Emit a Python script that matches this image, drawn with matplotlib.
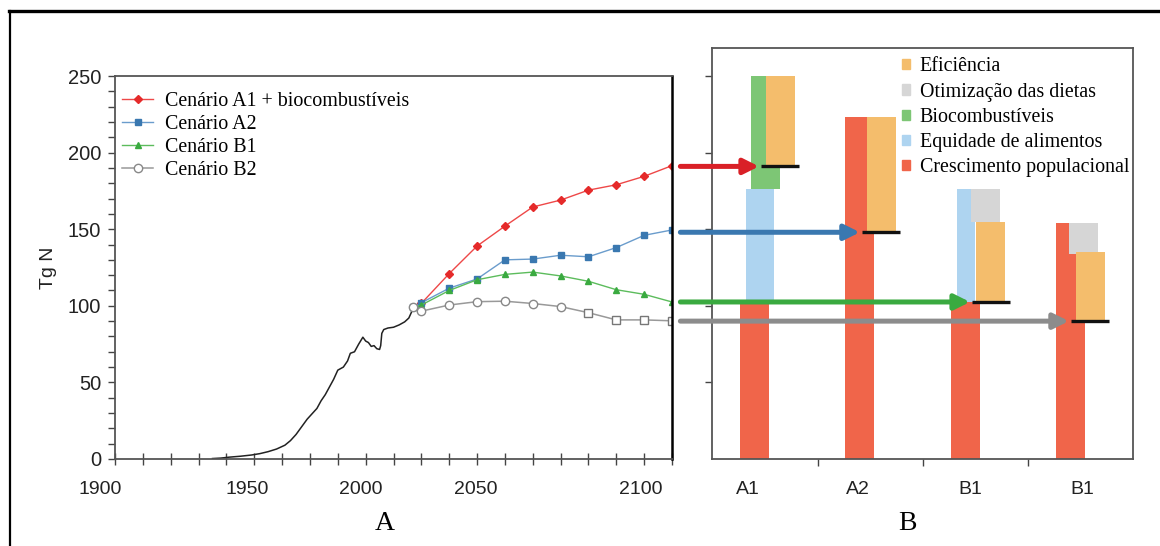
import numpy as np
import matplotlib.pyplot as plt
from matplotlib.patches import Patch
from matplotlib.lines import Line2D
from matplotlib.transforms import blended_transform_factory

plt.rcParams['font.family'] = 'Liberation Sans'
SERIF = 'Liberation Serif'

# --- painel A: serie historica e cenarios (Tg N) ---
hist_years = [1935, 1938, 1941, 1945, 1949, 1952, 1955, 1958, 1961, 1963, 1965, 1967,
              1969, 1971, 1972.5, 1974, 1975.5, 1977, 1978.5, 1980, 1982, 1983.5, 1984.5,
              1986, 1987.5, 1989, 1990, 1991, 1992, 1993, 1994, 1995, 1995.4, 1995.8,
              1996.5, 1998, 2000, 2002, 2004, 2005.5, 2006.5, 2007]
hist_vals = [0.3, 0.6, 1.2, 1.8, 2.6, 3.5, 4.8, 6.5, 9, 12, 16, 21,
             26, 30, 33, 38, 42, 47, 52, 58, 60, 64, 69,
             70, 75, 79.5, 77, 76, 73.5, 74, 72, 71.5, 74, 82,
             84.5, 85.5, 86, 87.5, 89.5, 92, 96, 99]

years = [2007, 2010, 2020, 2030, 2040, 2050, 2060, 2070, 2080, 2090, 2100]
a1_bio = [99, 101.6, 121, 139, 152, 164.5, 169, 175.5, 179, 184.5, 191.5]
a2 = [99, 102, 111.5, 117.5, 130, 130.5, 133, 132, 138, 146, 149.5]
b1 = [99, 100.5, 110, 117, 120.5, 122, 119.5, 116, 110.5, 107.5, 102.5]
b2 = [99, 96.5, 100.5, 102.7, 103, 101.5, 99.5, 95.5, 90.8, 90.8, 90.2]

year_labels = ['1900', '1950', '2000', '2050', '2100']

# --- painel B: decomposicao por cenario ---
categories = ['A1', 'A2', 'B1', 'B1']
pop_top = [103, 223, 102.5, 154]
equity_top = [176, np.nan, 176, np.nan]
biofuel_top = [250, np.nan, np.nan, np.nan]
diet_low = [np.nan, np.nan, 155, 134]
diet_high = [np.nan, np.nan, 176, 154]
eff_high = [250, 223, 155, 135]
final = [191, 148, 102.5, 90]

c_eff = '#f4bd6c'
c_diet = '#d6d6d6'
c_bio = '#7dc675'
c_equity = '#aed4f0'
c_pop = '#f0654a'
arrow_colors = ['#d92027', '#3a78b0', '#3aaa40', '#8c8c8c']

fig = plt.figure(figsize=(11.6, 5.46), dpi=100)
ax1 = fig.add_axes([115 / 1160, 87 / 546, 557 / 1160, 383 / 546])
ax2 = fig.add_axes([712 / 1160, 87 / 546, 421 / 1160, 411 / 546])

# painel A
ax1.plot(hist_years, hist_vals, color='#222222', lw=1.1)
ax1.plot(years, a1_bio, color='#ee4848', lw=1, marker='D', ms=4,
         mfc='#e52a2a', mec='#e52a2a', label='Cenário A1 + biocombustíveis')
ax1.plot(years, a2, color='#6a9ccc', lw=1, marker='s', ms=5,
         mfc='#3a78b0', mec='#3a78b0', label='Cenário A2')
ax1.plot(years, b1, color='#5cbc5c', lw=1, marker='^', ms=5,
         mfc='#3aaa40', mec='#3aaa40', label='Cenário B1')
ax1.plot(years, b2, color='#999999', lw=1.1, marker='o', ms=6, markevery=slice(0, 7),
         mfc='white', mec='#888888', label='Cenário B2')
# no fim do cenario B2 os marcadores sao quadrados
ax1.plot(years[7:], b2[7:], ls='none', marker='s', ms=6, mfc='white', mec='#777777')

ax1.set_xlim(1900, 2100)
ax1.set_ylim(0, 250)
ax1.set_yticks(np.arange(0, 251, 50))
ax1.set_yticks(np.arange(0, 251, 10), minor=True)
ax1.tick_params(axis='y', which='both', direction='out', length=5, width=1,
                color='#444444', labelsize=14.5, pad=5, labelcolor='#222222')
ax1.set_xticks(np.arange(1900, 2101, 10), minor=True)
ax1.set_xticks([])
ax1.tick_params(axis='x', which='minor', direction='inout', length=8, width=1,
                color='#444444')
trans = blended_transform_factory(ax1.transData, ax1.transAxes)
for pos, lab in zip([1894.8, 1947.6, 1988.2, 2029.4, 2088.6], year_labels):
    ax1.text(pos, -0.08, lab, transform=trans, ha='center', va='center',
             fontsize=14, color='#222222', clip_on=False)
ax1.set_ylabel('Tg N', fontsize=14, labelpad=8, color='#222222')
for s in ax1.spines.values():
    s.set_color('#555555')
    s.set_linewidth(1.3)
ax1.spines['right'].set_color('black')
ax1.spines['right'].set_linewidth(1.8)

ax1.legend(loc='upper left', bbox_to_anchor=(0.0126, 0.958), frameon=False,
           prop={'family': SERIF, 'size': 14.4}, handlelength=1.55,
           handletextpad=0.6, labelspacing=0.2, borderaxespad=0, borderpad=0)

# painel B
w = 0.275
off_equity = [0.052, 0, 0.01, 0]
w_equity = [0.266, 0, 0.17, 0]
off_bio = [0.104, 0, 0, 0]
off_diet = [0, 0, 0.19, 0.124]
off_eff = [0.242, 0.206, 0.237, 0.19]
line_left = [0.062, 0.02, 0.066, 0.005]
line_len = 0.36

for i in range(len(categories)):
    ax2.bar(i, pop_top[i], width=w, color=c_pop, zorder=2)
    if not np.isnan(equity_top[i]):
        ax2.bar(i + off_equity[i], equity_top[i] - pop_top[i], bottom=pop_top[i],
                width=w_equity[i], color=c_equity, zorder=2)
    if not np.isnan(biofuel_top[i]):
        ax2.bar(i + off_bio[i], biofuel_top[i] - equity_top[i], bottom=equity_top[i],
                width=w, color=c_bio, zorder=3)
    if not np.isnan(diet_low[i]):
        ax2.bar(i + off_diet[i], diet_high[i] - diet_low[i], bottom=diet_low[i],
                width=w, color=c_diet, zorder=3)
    ax2.bar(i + off_eff[i], eff_high[i] - final[i], bottom=final[i],
            width=w, color=c_eff, zorder=4)
    ax2.plot([i + line_left[i], i + line_left[i] + line_len], [final[i], final[i]],
             color='#111111', lw=2.4, solid_capstyle='butt', zorder=6)

ax2.set_xlim(-0.404, 3.594)
ax2.set_ylim(0, 268.3)
ax2.set_yticks(np.arange(50, 251, 50))
ax2.set_yticklabels([])
ax2.set_xticks([0.6, 1.6, 2.6])
ax2.set_xticklabels([])
ax2.tick_params(which='both', direction='out', length=5, width=1, color='#444444')
trans2 = blended_transform_factory(ax2.transData, ax2.transAxes)
for pos, lab in zip([-0.06, 0.98, 2.05, 3.11], categories):
    ax2.text(pos, -0.073, lab, transform=trans2, ha='center', va='center',
             fontsize=14, color='#222222', clip_on=False)
for s in ax2.spines.values():
    s.set_color('#555555')
    s.set_linewidth(1.3)

handles = [Patch(color=c_eff), Patch(color=c_diet), Patch(color=c_bio),
           Patch(color=c_equity), Patch(color=c_pop)]
labels = ['Eficiência', 'Otimização das dietas', 'Biocombustíveis',
          'Equidade de alimentos', 'Crescimento populacional']
ax2.legend(handles, labels, loc='upper left', bbox_to_anchor=(0.451, 0.977),
           frameon=False, prop={'family': SERIF, 'size': 14.4}, handlelength=0.4,
           handleheight=0.4, handletextpad=0.5, labelspacing=0.31,
           borderaxespad=0, borderpad=0)

# setas ligando o fim de cada cenario a sua barra
for i, col in enumerate(arrow_colors):
    ax2.annotate('', xy=(i + line_left[i] - 0.02, final[i]), xycoords='data',
                 xytext=(2103, final[i]), textcoords=ax1.transData,
                 arrowprops=dict(arrowstyle='-|>,head_length=0.9,head_width=0.45',
                                 color=col, lw=3.6, mutation_scale=10,
                                 shrinkA=0, shrinkB=0),
                 annotation_clip=False, zorder=7)

fig.text(385 / 1160, 1 - 523 / 546, 'A', family=SERIF, fontsize=20,
         ha='center', va='center')
fig.text(907 / 1160, 1 - 523 / 546, 'B', family=SERIF, fontsize=20,
         ha='center', va='center')

# moldura
fig.add_artist(Line2D([9 / 1160, 1], [1 - 11 / 546, 1 - 11 / 546],
                      transform=fig.transFigure, color='black', lw=2.4))
fig.add_artist(Line2D([10 / 1160, 10 / 1160], [0, 1 - 11 / 546],
                      transform=fig.transFigure, color='black', lw=1.6))

fig.savefig('out.png', dpi=100)
